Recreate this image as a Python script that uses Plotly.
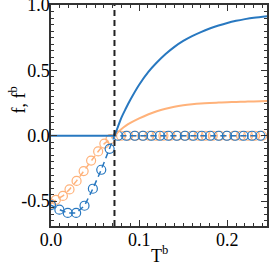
import plotly.graph_objects as go

# solid branch (f and f^b)
t_low = [0.0, 0.072]
zero_low = [0.0, 0.0]
t_solid = [0.072, 0.076, 0.08, 0.085, 0.09, 0.10, 0.11, 0.12, 0.13, 0.14, 0.15,
           0.16, 0.17, 0.18, 0.19, 0.20, 0.21, 0.22, 0.23, 0.245]
f_solid = [0.0, 0.07, 0.14, 0.21, 0.275, 0.39, 0.485, 0.56, 0.625, 0.68, 0.725,
           0.762, 0.793, 0.82, 0.843, 0.863, 0.879, 0.892, 0.903, 0.915]
fb_solid = [0.0, 0.028, 0.052, 0.077, 0.098, 0.133, 0.163, 0.188, 0.207, 0.222, 0.233,
            0.241, 0.247, 0.251, 0.254, 0.257, 0.259, 0.261, 0.263, 0.266]

# dashed branch with markers (f)
t_f = [0.0, 0.0095, 0.019, 0.0285, 0.038, 0.0475, 0.057, 0.0665, 0.072, 0.076,
       0.0855, 0.095, 0.1045, 0.114, 0.1235, 0.133, 0.1425, 0.152, 0.1615, 0.171,
       0.1805, 0.19, 0.1995, 0.209, 0.2185, 0.228, 0.2375]
f_dash = [-0.53, -0.565, -0.59, -0.59, -0.535, -0.405, -0.26, -0.10, 0.0, 0.0,
          0.0, 0.0, 0.0, 0.0, 0.0, 0.0, 0.0, 0.0, 0.0, 0.0,
          0.0, 0.0, 0.0, 0.0, 0.0, 0.0, 0.0]
f_marked = [True] * 8 + [False] + [True] * 18

# dashed branch with markers (f^b)
t_fb = [0.0, 0.0055, 0.0135, 0.021, 0.029, 0.037, 0.0455, 0.0535, 0.0605, 0.0675, 0.072,
        0.0795, 0.0875, 0.0955, 0.1035, 0.1115, 0.1195, 0.1275, 0.1355, 0.1435, 0.1515,
        0.1595, 0.1675, 0.1755, 0.1835, 0.1915, 0.1995, 0.2075, 0.2155, 0.2235, 0.2315,
        0.2395]
fb_dash = [-0.52, -0.49, -0.46, -0.41, -0.345, -0.27, -0.19, -0.12, -0.06, -0.025, 0.0,
           0.0, 0.0, 0.0, 0.0, 0.0, 0.0, 0.0, 0.0, 0.0, 0.0,
           0.0, 0.0, 0.0, 0.0, 0.0, 0.0, 0.0, 0.0, 0.0, 0.0, 0.0]
fb_marked = [True] * 10 + [False] + [True] * 21

t_crit = 0.072

x_ticks = [0.0, 0.1, 0.2]
x_labels = ["0.0", "0.1", "0.2"]
y_ticks = [-0.5, 0.0, 0.5, 1.0]
y_labels = ["-0.5", "0.0", "0.5", "1.0"]

BLUE = "#2878c0"
ORANGE = "#ffb27a"
SERIF = "Liberation Serif, Times New Roman, serif"

fig = go.Figure()

# f^b dashed with markers
fig.add_trace(go.Scatter(x=t_fb, y=fb_dash, mode="lines", line=dict(color=ORANGE, width=1.5, dash="6px,4px"),
                         showlegend=False, hoverinfo="skip"))
fig.add_trace(go.Scatter(x=[t for t, m in zip(t_fb, fb_marked) if m],
                         y=[v for v, m in zip(fb_dash, fb_marked) if m], mode="markers",
                         marker=dict(symbol="circle-open", size=9, color=ORANGE, line=dict(width=1.2)),
                         showlegend=False))
# f dashed with markers
fig.add_trace(go.Scatter(x=t_f, y=f_dash, mode="lines", line=dict(color=BLUE, width=1.5, dash="6px,4px"),
                         showlegend=False, hoverinfo="skip"))
fig.add_trace(go.Scatter(x=[t for t, m in zip(t_f, f_marked) if m],
                         y=[v for v, m in zip(f_dash, f_marked) if m], mode="markers",
                         marker=dict(symbol="circle-open", size=9, color=BLUE, line=dict(width=1.2)),
                         showlegend=False))
# solid branches
fig.add_trace(go.Scatter(x=t_solid, y=fb_solid, mode="lines", line=dict(color=ORANGE, width=2),
                         line_shape="spline", showlegend=False))
fig.add_trace(go.Scatter(x=t_low, y=zero_low, mode="lines", line=dict(color=BLUE, width=2),
                         showlegend=False))
fig.add_trace(go.Scatter(x=t_solid, y=f_solid, mode="lines", line=dict(color=BLUE, width=2),
                         line_shape="spline", showlegend=False))

fig.add_shape(type="line", x0=t_crit, x1=t_crit, y0=0, y1=1, xref="x", yref="paper",
              line=dict(color="#222222", width=2, dash="6px,4px"))

axis_common = dict(showline=True, linecolor="#333333", linewidth=1.5, mirror="allticks",
                   ticks="inside", tickcolor="#333333", ticklen=6, tickwidth=1.2,
                   showgrid=False, zeroline=False, ticklabeloverflow="allow", automargin=False,
                   tickfont=dict(family=SERIF, size=18, color="black"))

fig.update_xaxes(range=[0, 0.245], tickvals=x_ticks, ticktext=x_labels, ticklabelstandoff=-3,
                 minor=dict(dtick=0.01, tick0=0, ticks="inside", ticklen=3, tickcolor="#333333"),
                 **axis_common)
fig.update_yaxes(range=[-0.69, 1.0], tickvals=y_ticks, ticktext=y_labels, ticklabelstandoff=-4,
                 minor=dict(dtick=0.05, tick0=0, ticks="inside", ticklen=3, tickcolor="#333333"),
                 **axis_common)

fig.add_annotation(text="T<sup>b</sup>", xref="paper", yref="paper", x=0.5, y=-0.19,
                   xanchor="center", yanchor="bottom", showarrow=False,
                   font=dict(family=SERIF, size=18, color="black"))
fig.add_annotation(text="f, f<sup>b</sup>", xref="paper", yref="paper", x=-0.155, y=0.57,
                   xanchor="center", yanchor="middle", textangle=-90, showarrow=False,
                   font=dict(family=SERIF, size=18, color="black"))

fig.update_layout(width=273, height=262, margin=dict(l=51, r=6, t=5, b=36, autoexpand=False),
                  font=dict(family=SERIF, size=18, color="black"),
                  plot_bgcolor="white", paper_bgcolor="white")

fig.write_html("out.html", config={"displayModeBar": False},
               post_script="document.body.style.margin='0';document.body.style.padding='0';")
